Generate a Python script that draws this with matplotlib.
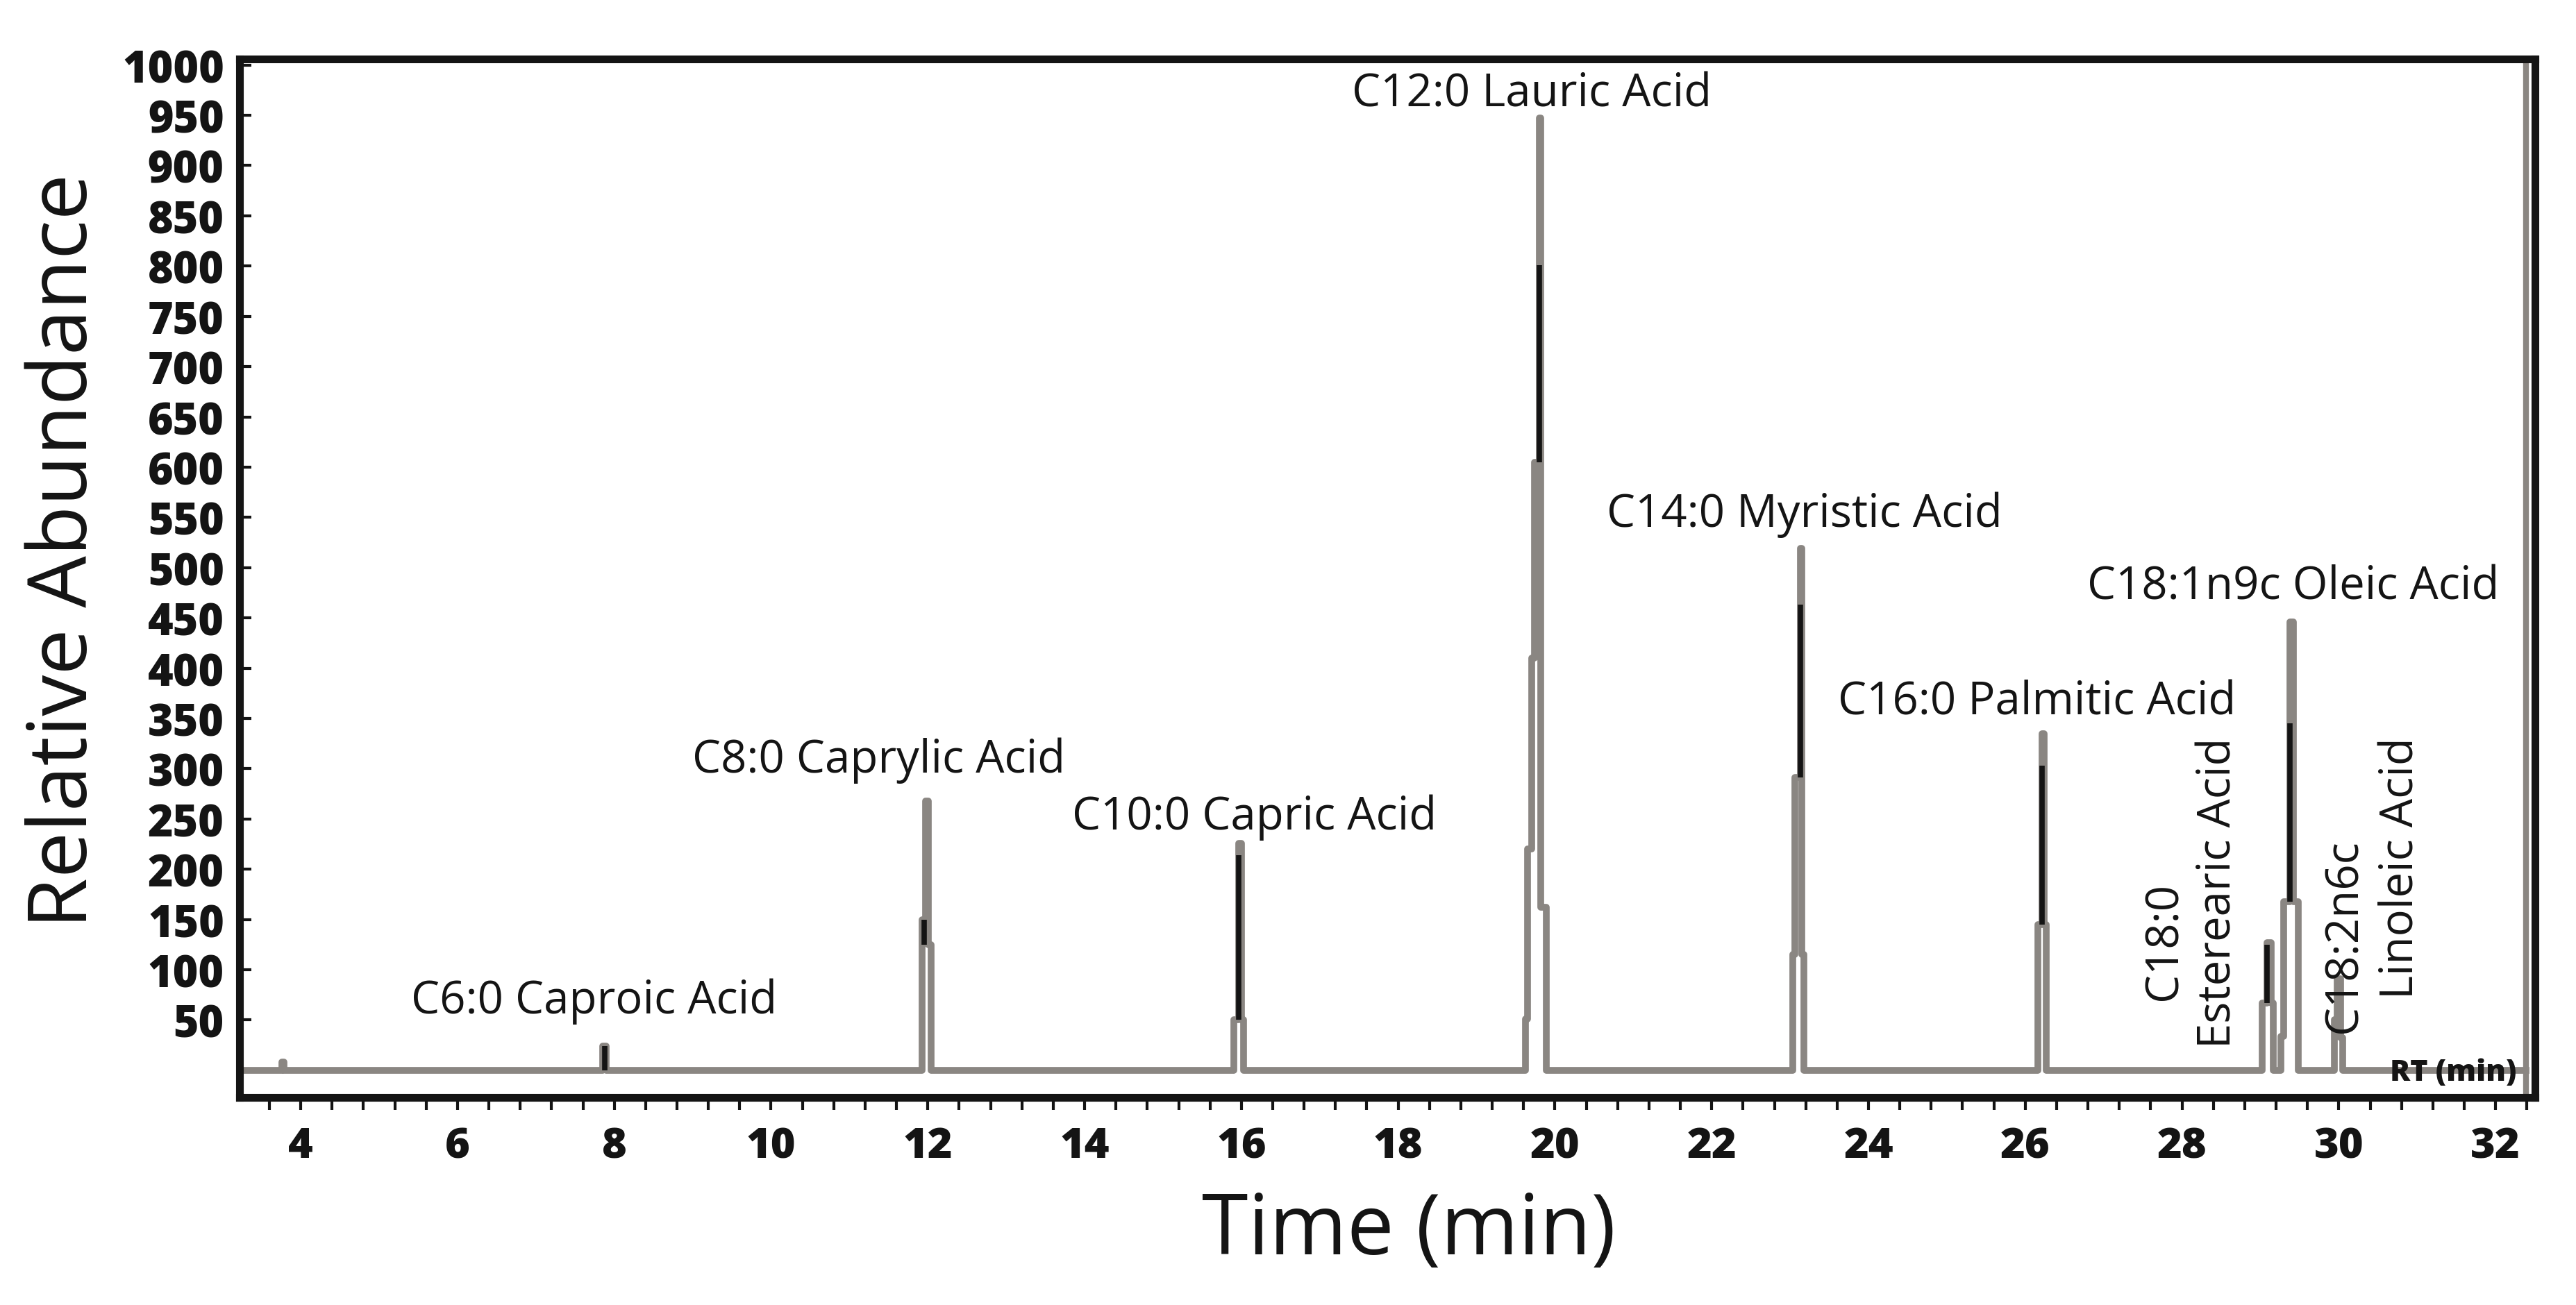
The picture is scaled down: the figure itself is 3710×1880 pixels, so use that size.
import numpy as np
import matplotlib.pyplot as plt

# chromatogram trace: retention time (min) at which the signal steps
# to the given relative abundance
trace_t = [3.22,
           3.76, 3.79,                                    # small bump
           7.85, 7.90,                                    # C6:0
           11.93, 11.97, 12.01, 12.04,                    # C8:0
           15.90, 15.97, 16.00, 16.03,                    # C10:0
           19.62, 19.65, 19.70, 19.74, 19.80, 19.82, 19.89,  # C12:0
           23.03, 23.06, 23.13, 23.15, 23.18,             # C14:0
           26.16, 26.21, 26.24, 26.27,                    # C16:0
           29.02, 29.08, 29.14, 29.16,                    # C18:0
           29.26, 29.30, 29.38, 29.42, 29.48,             # C18:1n9c
           29.94, 29.98, 30.02, 30.05,                    # C18:2n6c
           32.39]
trace_a = [0,
           8, 0,
           24, 0,
           150, 268, 125, 0,
           50, 226, 50, 0,
           51, 220, 410, 605, 947, 162, 0,
           115, 291, 519, 115, 0,
           145, 335, 145, 0,
           67, 127, 67, 0,
           34, 168, 446, 168, 0,
           50, 91, 32, 0,
           0]

# darker overlapping cores of the peaks
core_t = [7.875, 11.95, 15.97, 19.80, 23.13, 26.21, 29.08, 29.38]
core_lo = [0, 125, 50, 605, 291, 145, 67, 168]
core_hi = [24, 150, 214, 801, 463, 303, 125, 345]

# peak labels
label_text = ['C6:0 Caproic Acid', 'C8:0 Caprylic Acid', 'C10:0 Capric Acid',
              'C12:0 Lauric Acid', 'C14:0 Myristic Acid', 'C16:0 Palmitic Acid',
              'C18:1n9c Oleic Acid']
label_x = [7.74, 11.37, 16.17, 19.70, 23.18, 26.15, 29.42]
label_y = [69, 309, 252, 971, 553, 366, 481]

vlabel_text = ['C18:0', 'Esterearic Acid', 'C18:2n6c', 'Linoleic Acid']
vlabel_x = [27.78, 28.47, 30.07, 30.80]
vlabel_y = [129, 177, 134, 202]

yticks = np.arange(50, 1001, 50)
xticks = np.arange(4, 33, 2)
xminor = np.arange(3.6, 32.5, 0.4)

plt.rcParams['font.family'] = ['Open Sans', 'DejaVu Sans']
ink = '#141414'
grey = '#8a8682'

fig = plt.figure(figsize=(37.1, 18.81), dpi=100)
ax = fig.add_axes([0.093, 0.159, 0.891, 0.7953])

ax.plot(trace_t, trace_a, color=grey, lw=7, drawstyle='steps-post', zorder=2)
ax.vlines(core_t, core_lo, core_hi, color=ink, lw=5.5, zorder=3)
ax.axvline(32.39, color=grey, lw=6, zorder=2)

for s, x, y in zip(label_text, label_x, label_y):
    ax.text(x, y, s, ha='center', va='center', fontsize=47, color=ink)
for s, x, y in zip(vlabel_text, vlabel_x, vlabel_y):
    ax.text(x, y, s, ha='center', va='center', fontsize=47, color=ink, rotation=90)
ax.text(32.27, -2, 'RT (min)', ha='right', va='center', fontsize=31,
        fontweight='heavy', color=ink, zorder=4)

ax.set_xlim(3.22, 32.50)
ax.set_ylim(-27, 1006)

ax.set_yticks(yticks)
ax.set_yticklabels([str(v) for v in yticks], fontsize=45, fontweight='heavy')
ax.tick_params(axis='y', direction='in', length=12, width=3, pad=16, colors=ink)

ax.set_xticks(xticks)
ax.set_xticklabels([str(v) for v in xticks], fontsize=44, fontweight='heavy')
ax.set_xticks(xminor, minor=True)
ax.tick_params(axis='x', which='both', direction='out', length=13, width=3,
               pad=16, colors=ink)

for sp in ax.spines.values():
    sp.set_linewidth(8)
    sp.set_color(ink)

fig.text(0.0256, 0.578, 'Relative Abundance', rotation=90, ha='center',
         va='center', fontsize=85, color=ink)
fig.text(0.547, 0.056, 'Time (min)', ha='center', va='center',
         fontsize=87, color=ink)

fig.savefig('out.png', dpi=100, facecolor='white')
